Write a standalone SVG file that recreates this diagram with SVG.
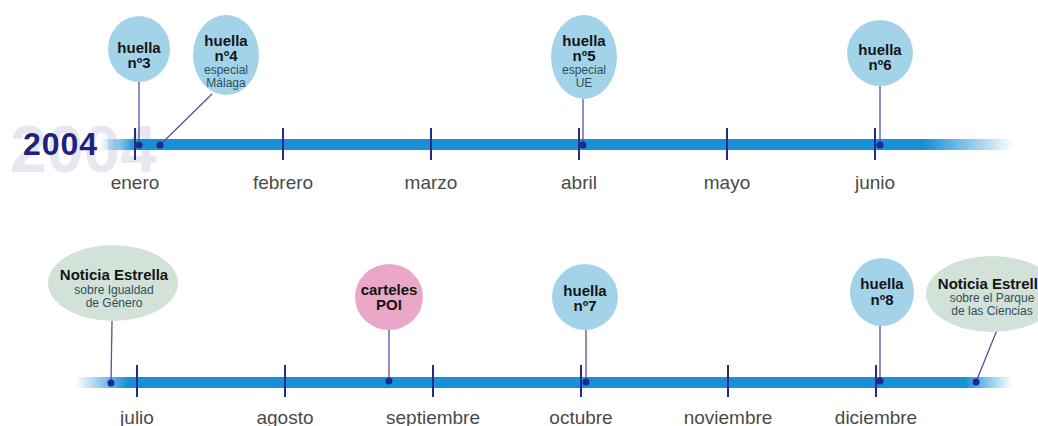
<svg xmlns="http://www.w3.org/2000/svg" width="1038" height="426" viewBox="0 0 1038 426">
<defs>
<linearGradient id="barTop" x1="100" y1="0" x2="1015" y2="0" gradientUnits="userSpaceOnUse">
<stop offset="0" stop-color="#1890d6" stop-opacity="0"/>
<stop offset="0.04" stop-color="#1890d6" stop-opacity="1"/>
<stop offset="0.9" stop-color="#1890d6" stop-opacity="1"/>
<stop offset="1" stop-color="#1890d6" stop-opacity="0"/>
</linearGradient>
<linearGradient id="barBot" x1="76" y1="0" x2="1012" y2="0" gradientUnits="userSpaceOnUse">
<stop offset="0" stop-color="#1890d6" stop-opacity="0"/>
<stop offset="0.055" stop-color="#1890d6" stop-opacity="1"/>
<stop offset="0.95" stop-color="#1890d6" stop-opacity="1"/>
<stop offset="1" stop-color="#1890d6" stop-opacity="0"/>
</linearGradient>
<style>
.blue{fill:#a3d3e8}
.green{fill:#d2e2d8}
.pink{fill:#eaa7c8}
.t{font-family:"Liberation Sans",Arial,sans-serif;text-anchor:middle}
.b{font-weight:bold;font-size:15px;fill:#141414}
.s{font-size:12px;fill:#2f4f5a}
.m{font-size:19px;fill:#4a4a4a}
.tick{stroke:#2a2a85;stroke-width:2}
.conn{stroke:#5a4ea8;stroke-width:1.3;fill:none}
.dot{fill:#1c2a8c}
</style>
</defs>
<rect width="1038" height="426" fill="#ffffff"/>
<text x="10" y="172" font-family="Liberation Sans,Arial,sans-serif" font-weight="bold" font-size="66" fill="#e6e7f1">2004</text>
<text x="23" y="155" font-family="Liberation Sans,Arial,sans-serif" font-weight="bold" font-size="32" fill="#1f217e" textLength="74">2004</text>
<g id="timeline-top">
<rect x="100" y="139" width="915" height="11" fill="url(#barTop)"/>
<line class="tick" x1="135" y1="128" x2="135" y2="160"/>
<line class="tick" x1="283" y1="128" x2="283" y2="160"/>
<line class="tick" x1="431" y1="128" x2="431" y2="160"/>
<line class="tick" x1="579" y1="128" x2="579" y2="160"/>
<line class="tick" x1="727" y1="128" x2="727" y2="160"/>
<line class="tick" x1="875" y1="128" x2="875" y2="160"/>
<text class="t m" x="135" y="189">enero</text>
<text class="t m" x="283" y="189">febrero</text>
<text class="t m" x="431" y="189">marzo</text>
<text class="t m" x="579" y="189">abril</text>
<text class="t m" x="727" y="189">mayo</text>
<text class="t m" x="875" y="189">junio</text>
</g>
<g id="timeline-bottom">
<rect x="76" y="377" width="936" height="11" fill="url(#barBot)"/>
<line class="tick" x1="137" y1="365" x2="137" y2="397"/>
<line class="tick" x1="285" y1="365" x2="285" y2="397"/>
<line class="tick" x1="433" y1="365" x2="433" y2="397"/>
<line class="tick" x1="581" y1="365" x2="581" y2="397"/>
<line class="tick" x1="728" y1="365" x2="728" y2="397"/>
<line class="tick" x1="876" y1="365" x2="876" y2="397"/>
<text class="t m" x="137" y="424">julio</text>
<text class="t m" x="285" y="424">agosto</text>
<text class="t m" x="433" y="424">septiembre</text>
<text class="t m" x="581" y="424">octubre</text>
<text class="t m" x="728" y="424">noviembre</text>
<text class="t m" x="876" y="424">diciembre</text>
</g>
<g id="connectors">
<line class="conn" x1="139" y1="81" x2="139" y2="145"/>
<line class="conn" x1="212" y1="94" x2="160" y2="145"/>
<line class="conn" x1="583" y1="99" x2="583" y2="145"/>
<line class="conn" x1="880" y1="86" x2="880" y2="145"/>
<line class="conn" x1="112" y1="321" x2="111" y2="383"/>
<line class="conn" x1="389" y1="330" x2="389" y2="381"/>
<line class="conn" x1="586" y1="330" x2="586" y2="382"/>
<line class="conn" x1="880" y1="325" x2="880" y2="381"/>
<line class="conn" x1="997" y1="330" x2="976" y2="382"/>
<circle class="dot" cx="139" cy="145" r="3.5"/>
<circle class="dot" cx="160" cy="145" r="3.5"/>
<circle class="dot" cx="583" cy="145" r="3.5"/>
<circle class="dot" cx="880" cy="145" r="3.5"/>
<circle class="dot" cx="111" cy="383" r="3.5"/>
<circle class="dot" cx="389" cy="381" r="3.5"/>
<circle class="dot" cx="586" cy="382" r="3.5"/>
<circle class="dot" cx="880" cy="381" r="3.5"/>
<circle class="dot" cx="976" cy="382" r="3.5"/>
</g>
<g id="huella3">
<ellipse class="blue" cx="139" cy="49" rx="31" ry="33"/>
<text class="t b" x="139" y="53">huella</text>
<text class="t b" x="139" y="68">nº3</text>
</g>
<g id="huella4">
<ellipse class="blue" cx="226" cy="55" rx="33" ry="40"/>
<text class="t b" x="226" y="46">huella</text>
<text class="t b" x="226" y="61">nº4</text>
<text class="t s" x="226" y="74">especial</text>
<text class="t s" x="226" y="87">Málaga</text>
</g>
<g id="huella5">
<ellipse class="blue" cx="584" cy="57" rx="33" ry="42"/>
<text class="t b" x="584" y="46">huella</text>
<text class="t b" x="584" y="61">nº5</text>
<text class="t s" x="584" y="74">especial</text>
<text class="t s" x="584" y="87">UE</text>
</g>
<g id="huella6">
<ellipse class="blue" cx="880" cy="53" rx="33" ry="33"/>
<text class="t b" x="880" y="55">huella</text>
<text class="t b" x="880" y="70">nº6</text>
</g>
<g id="noticia-igualdad">
<ellipse class="green" cx="113" cy="283" rx="65" ry="38"/>
<text class="t b" x="114" y="280">Noticia Estrella</text>
<text class="t s" x="114" y="294">sobre Igualdad</text>
<text class="t s" x="114" y="307">de Género</text>
</g>
<g id="carteles-poi">
<ellipse class="pink" cx="389" cy="297" rx="34" ry="33"/>
<text class="t b" x="389" y="295">carteles</text>
<text class="t b" x="389" y="310">POI</text>
</g>
<g id="huella7">
<ellipse class="blue" cx="585" cy="297" rx="33" ry="33"/>
<text class="t b" x="585" y="296">huella</text>
<text class="t b" x="585" y="311">nº7</text>
</g>
<g id="huella8">
<ellipse class="blue" cx="882" cy="292" rx="32" ry="34"/>
<text class="t b" x="882" y="289">huella</text>
<text class="t b" x="882" y="305">nº8</text>
</g>
<g id="noticia-parque">
<ellipse class="green" cx="992" cy="294" rx="66" ry="38"/>
<text class="t b" x="992" y="289">Noticia Estrella</text>
<text class="t s" x="992" y="302">sobre el Parque</text>
<text class="t s" x="992" y="315">de las Ciencias</text>
</g>
</svg>
